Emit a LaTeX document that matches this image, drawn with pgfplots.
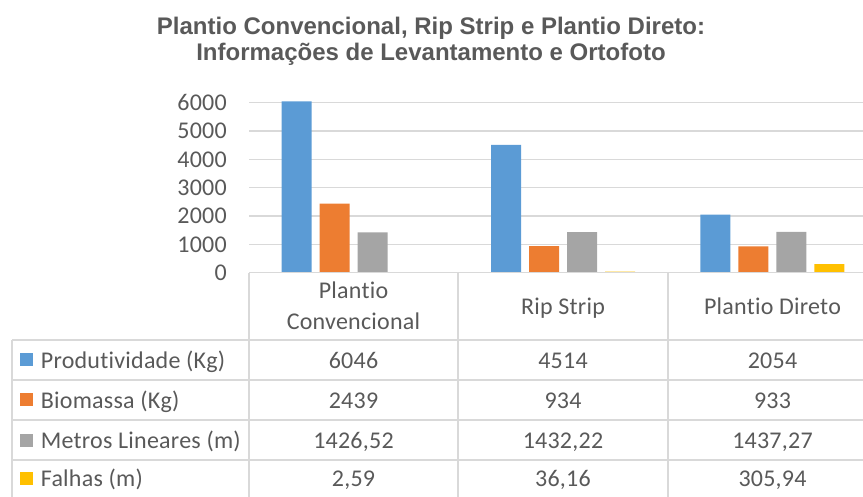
\documentclass[border=0pt]{standalone}
\usepackage{fontspec}
\setmainfont{Carlito}[LetterSpace=1.0, Ligatures={NoCommon}]
\newfontfamily\titlefont{Liberation Sans}
\usepackage{pgfplots}
\pgfplotsset{compat=1.18}
\definecolor{cblue}{HTML}{5B9BD5}
\definecolor{corange}{HTML}{ED7D31}
\definecolor{cgray}{HTML}{A5A5A5}
\definecolor{cyellow}{HTML}{FFC000}
\definecolor{gridgray}{HTML}{D9D9D9}
\definecolor{textgray}{HTML}{595959}
\begin{document}
\begin{tikzpicture}[x=1pt,y=1pt]
\path[use as bounding box] (0,0) rectangle (863,496);
\begin{axis}[
  at={(249pt,223.3pt)}, anchor=south west,
  scale only axis, width=628pt, height=170pt,
  xmin=-0.5, xmax=2.5, ymin=0, ymax=6000,
  clip=false,
  ybar=8pt, bar width=30pt,
  xtick=\empty,
  ytick={0,1000,...,6000},
  ymajorgrids,
  grid style={color=gridgray, line width=1.3pt},
  axis line style={draw=none},
  major tick length=0pt,
  /pgf/number format/assume math mode=true,
  /pgf/number format/1000 sep={},
  yticklabel style={font=\fontsize{24}{24}\selectfont, color=textgray, inner sep=0pt, xshift=-22pt},
]
\addplot[fill=cblue, draw=none] coordinates {(0,6046) (1,4514) (2,2054)};
\addplot[fill=corange, draw=none] coordinates {(0,2439) (1,934) (2,933)};
\addplot[fill=cgray, draw=none] coordinates {(0,1426.52) (1,1432.22) (2,1437.27)};
\addplot[fill=cyellow, draw=none] coordinates {(0,2.59) (1,36.16) (2,305.94)};
\end{axis}
% title
\node[anchor=base, text=textgray, font=\titlefont\bfseries\fontsize{24}{24}\selectfont] at (431,461.5) {Plantio Convencional, Rip Strip e Plantio Direto:};
\node[anchor=base, text=textgray, font=\titlefont\bfseries\fontsize{24}{24}\selectfont] at (431,435.5) {Informações de Levantamento e Ortofoto};
% table lines
\begin{scope}[draw=gridgray, line width=1.5pt]
\draw (249,223.3) -- (900,223.3);
\foreach \yy in {156,116,76,36} { \draw (12,\yy) -- (900,\yy); }
\foreach \xx in {249,458,668} { \draw (\xx,223.3) -- (\xx,-5); }
\draw (12,156) -- (12,-5);
\end{scope}
\begin{scope}[every node/.style={text=textgray, font=\fontsize{24}{24}\selectfont, inner sep=0pt}]
\node[anchor=base] at (353.5,197) {Plantio};
\node[anchor=base] at (353.5,166.7) {Convencional};
\node[anchor=base] at (563,181) {Rip Strip};
\node[anchor=base] at (772.5,181) {Plantio Direto};
% row labels
\fill[cblue] (20,129.5) rectangle (33,142.5);
\fill[corange] (20,89.5) rectangle (33,102.5);
\fill[cgray] (20,49.5) rectangle (33,62.5);
\fill[cyellow] (20,11) rectangle (33,24);
\node[anchor=base west] at (40.7,128) {Produtividade (Kg)};
\node[anchor=base west] at (40.7,88) {Biomassa (Kg)};
\node[anchor=base west] at (40.7,48) {Metros Lineares (m)};
\node[anchor=base west] at (40.7,9.3) {Falhas (m)};
% values
\node[anchor=base] at (353.5,128) {6046};
\node[anchor=base] at (563,128) {4514};
\node[anchor=base] at (772.5,128) {2054};
\node[anchor=base] at (353.5,88) {2439};
\node[anchor=base] at (563,88) {934};
\node[anchor=base] at (772.5,88) {933};
\node[anchor=base] at (353.5,48) {1426,52};
\node[anchor=base] at (563,48) {1432,22};
\node[anchor=base] at (772.5,48) {1437,27};
\node[anchor=base] at (353.5,9.3) {2,59};
\node[anchor=base] at (563,9.3) {36,16};
\node[anchor=base] at (772.5,9.3) {305,94};
\end{scope}
\end{tikzpicture}
\end{document}
